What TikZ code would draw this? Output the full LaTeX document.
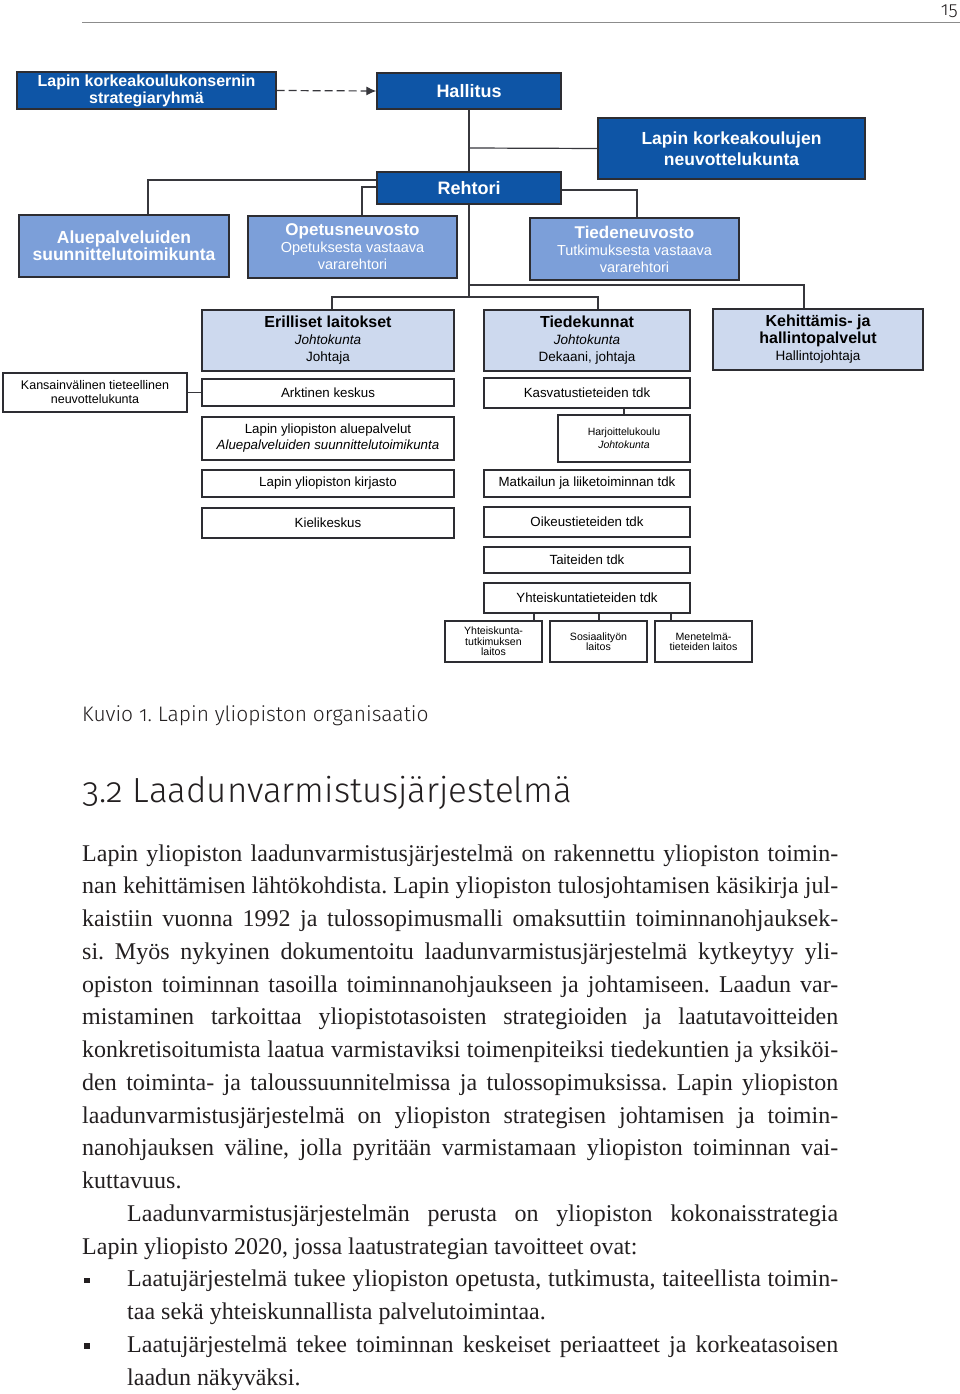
\documentclass[tikz,border=0pt]{standalone}
\usepackage{fontspec}
\setmainfont{Liberation Serif}
\newfontfamily\arialf{Liberation Sans}
\newfontfamily\firaf{Fira Sans}[Numbers=OldStyle]
\newfontfamily\firalf{Fira Sans Light}[Numbers=OldStyle]
\usetikzlibrary{arrows.meta}
\definecolor{dblue}{RGB}{14,85,166}
\definecolor{mblue}{RGB}{124,159,217}
\definecolor{lblue}{RGB}{205,217,238}
\definecolor{edgec}{RGB}{45,45,50}
\definecolor{linec}{RGB}{55,55,60}
\definecolor{txtc}{RGB}{35,31,32}
\definecolor{rulec}{RGB}{140,140,140}
\newcommand{\fs}[2]{\fontsize{#1}{#2}\selectfont}
\newcommand{\subf}{\mdseries\fs{14.5}{15.5}}
\newcommand{\headf}{\bfseries\fs{16}{17}}
\newcommand{\bx}[7]{\node[#1, minimum width={#5-#3}, minimum height={#6-#4}] (#2) at ({(#3+#5)/2},{(#4+#6)/2}) {#7};}
\begin{document}
\frenchspacing
\begin{tikzpicture}[x=1pt,y=-1pt,
 box/.style={draw=edgec, line width=1.3pt, inner sep=0pt, align=center, text=black},
 darkbox/.style={box, fill=dblue, text=white, font=\arialf\bfseries\fs{18}{19}},
 medbox/.style={box, fill=mblue, text=white, font=\arialf\bfseries\fs{17}{17}},
 lightbox/.style={box, fill=lblue, font=\arialf\fs{13.5}{17}},
 whitebox/.style={box, fill=white, font=\arialf\fs{13.3}{16}},
 smallbox/.style={box, fill=white, font=\arialf\fs{10.6}{10.5}},
 conn/.style={draw=linec, line width=1.2pt},
 bodyline/.style={anchor=base west, inner sep=0pt, font=\fs{24}{24}, text=txtc},
 bul/.style={fill=txtc, inner sep=0pt, minimum size=5.5pt}
]
\useasboundingbox (0,0) rectangle (960,1394);
\fill[white] (0,0) rectangle (960,1394);

% header
\draw[rulec, line width=1pt] (82,23) -- (960,23);
\node[anchor=base east, inner sep=0pt, font=\firalf\fs{19}{19}, text=txtc] (pnum) at (958,16) {15};

% top level
\bx{darkbox,font=\arialf\bfseries\fs{16}{17}}{strat}{17}{72}{276}{109}{Lapin korkeakoulukonsernin\\strategiaryhmä}
\bx{darkbox}{hall}{377}{73}{561}{109}{Hallitus}
\bx{darkbox,font=\arialf\bfseries\fs{17.5}{21}}{klk}{598}{118}{865}{179}{Lapin korkeakoulujen\\neuvottelukunta}
\bx{darkbox}{reh}{377}{172}{561}{204}{Rehtori}

\bx{medbox,font=\arialf\bfseries\fs{17.5}{17}}{alue}{19}{215}{229}{277}{Aluepalveluiden\\suunnittelutoimikunta}
\bx{medbox}{opet}{248}{216}{457}{278}{Opetusneuvosto\\\subf Opetuksesta vastaava\\\subf vararehtori}
\bx{medbox}{tiede}{530}{218}{739}{280}{Tiedeneuvosto\\\subf Tutkimuksesta vastaava\\\subf vararehtori}

\bx{lightbox}{eri}{202}{310}{454}{371}{\headf Erilliset laitokset\\\itshape Johtokunta\\Johtaja}
\bx{lightbox}{tdk}{484}{310}{690}{371}{\headf Tiedekunnat\\\itshape Johtokunta\\Dekaani, johtaja}
\bx{lightbox}{keh}{713}{309}{923}{370}{\bfseries\fs{16}{15}Kehittämis- ja\\\bfseries\fs{16}{15}hallintopalvelut\\Hallintojohtaja}

% left column
\bx{whitebox,font=\arialf\fs{12.5}{14}}{kans}{3}{373}{187}{412}{Kansainvälinen tieteellinen\\neuvottelukunta}
\bx{whitebox}{ark}{202}{379}{454}{406}{Arktinen keskus}
\bx{whitebox}{alp}{202}{417}{454}{460}{Lapin yliopiston aluepalvelut\\\itshape Aluepalveluiden suunnittelutoimikunta}
\bx{whitebox}{kirj}{202}{470}{454}{497}{Lapin yliopiston kirjasto}
\bx{whitebox}{kiel}{202}{508}{454}{538}{Kielikeskus}

% right column
\bx{whitebox}{kasv}{484}{378}{690}{408}{Kasvatustieteiden tdk}
\bx{whitebox,font=\arialf\fs{10.5}{13}}{harj}{558}{415}{690}{462}{Harjoittelukoulu\\\itshape Johtokunta}
\bx{whitebox}{matk}{484}{470}{690}{497}{Matkailun ja liiketoiminnan tdk}
\bx{whitebox}{oik}{484}{507}{690}{537}{Oikeustieteiden tdk}
\bx{whitebox}{tait}{484}{547}{690}{573}{Taiteiden tdk}
\bx{whitebox}{yht}{484}{583}{690}{613}{Yhteiskuntatieteiden tdk}

\bx{smallbox}{yl1}{445}{621}{542}{662}{Yhteiskunta-\\tutkimuksen\\laitos}
\bx{smallbox}{yl2}{550}{621}{647}{662}{Sosiaalityön\\laitos}
\bx{smallbox}{yl3}{655}{621}{752}{662}{Menetelmä-\\tieteiden laitos}

% connectors
\draw[conn, dashed, dash pattern=on 8pt off 4pt, -{Latex[length=10pt,width=9pt]}] (strat.east) -- (hall.west);
\draw[conn] (hall.south) -- (reh.north);
\coordinate (jk) at (469,148);
\draw[conn] (jk) -- (klk.west);
\draw[conn] ([yshift=8pt]reh.west) -| ([xshift=24pt]alue.north);
\draw[conn] ([yshift=1pt]reh.west) -| ([xshift=9.5pt]opet.north);
\draw[conn] ([yshift=-2pt]reh.east) -| ([xshift=2.5pt]tiede.north);
\coordinate (j1) at (469,297);
\coordinate (j2) at (469,285);
\draw[conn] (reh.south) -- (j1);
\draw[conn] (j2) -| ([xshift=-14pt]keh.north);
\draw[conn] ([xshift=4pt]eri.north) |- (j1) -| ([xshift=11pt]tdk.north);
\draw[conn] (kans.east) -- (ark.west);
\draw[conn] (harj.north) -- (harj.north |- kasv.south);
\draw[conn] ([xshift=40.5pt]yl1.north) -- ([xshift=40.5pt]yl1.north |- yht.south);
\draw[conn] ([xshift=0.5pt]yl2.north) -- ([xshift=0.5pt]yl2.north |- yht.south);
\draw[conn] ([xshift=-32.5pt]yl3.north) -- ([xshift=-32.5pt]yl3.north |- yht.south);

% caption and heading
\node[anchor=base west, inner sep=0pt, font=\firalf\fs{21}{21}, text=txtc] (cap) at (82,721) {Kuvio 1. Lapin yliopiston organisaatio};
\node[anchor=base west, inner sep=0pt, font=\firalf\fs{34.9}{35}, text=txtc] (head) at (82,802) {3.2 Laadunvarmistusjärjestelmä};

% body text
\node[bodyline] (l1) at (82,861) {\makebox[756pt][s]{Lapin yliopiston laadunvarmistusjärjestelmä on rakennettu yliopiston toimin-}};
\node[bodyline] (l2) at (82,893.75) {\makebox[756pt][s]{nan kehittämisen lähtökohdista. Lapin yliopiston tulosjohtamisen käsikirja jul-}};
\node[bodyline] (l3) at (82,926.5) {\makebox[756pt][s]{kaistiin vuonna 1992 ja tulossopimusmalli omaksuttiin toiminnanohjauksek-}};
\node[bodyline] (l4) at (82,959.25) {\makebox[756pt][s]{si. Myös nykyinen dokumentoitu laadunvarmistusjärjestelmä kytkeytyy yli-}};
\node[bodyline] (l5) at (82,992) {\makebox[756pt][s]{opiston toiminnan tasoilla toiminnanohjaukseen ja johtamiseen. Laadun var-}};
\node[bodyline] (l6) at (82,1024.75) {\makebox[756pt][s]{mistaminen tarkoittaa yliopistotasoisten strategioiden ja laatutavoitteiden}};
\node[bodyline] (l7) at (82,1057.5) {\makebox[756pt][s]{konkretisoitumista laatua varmistaviksi toimenpiteiksi tiedekuntien ja yksiköi-}};
\node[bodyline] (l8) at (82,1090.25) {\makebox[756pt][s]{den toiminta- ja taloussuunnitelmissa ja tulossopimuksissa. Lapin yliopiston}};
\node[bodyline] (l9) at (82,1123) {\makebox[756pt][s]{laadunvarmistusjärjestelmä on yliopiston strategisen johtamisen ja toimin-}};
\node[bodyline] (l10) at (82,1155.75) {\makebox[756pt][s]{nanohjauksen väline, jolla pyritään varmistamaan yliopiston toiminnan vai-}};
\node[bodyline] (l11) at (82,1188.5) {kuttavuus.};
\node[bodyline] (l12) at (127,1221.25) {\makebox[711pt][s]{Laadunvarmistusjärjestelmän perusta on yliopiston kokonaisstrategia}};
\node[bodyline] (l13) at (82,1254) {Lapin yliopisto 2020, jossa laatustrategian tavoitteet ovat:};
\node[bul] (b1) at (87,1280.5) {};
\node[bodyline] (l14) at (127,1286.75) {\makebox[711pt][s]{Laatujärjestelmä tukee yliopiston opetusta, tutkimusta, taiteellista toimin-}};
\node[bodyline] (l15) at (127,1319.5) {taa sekä yhteiskunnallista palvelutoimintaa.};
\node[bul] (b2) at (87,1346) {};
\node[bodyline] (l16) at (127,1352.25) {\makebox[711pt][s]{Laatujärjestelmä tekee toiminnan keskeiset periaatteet ja korkeatasoisen}};
\node[bodyline] (l17) at (127,1385) {laadun näkyväksi.};
\end{tikzpicture}
\end{document}
